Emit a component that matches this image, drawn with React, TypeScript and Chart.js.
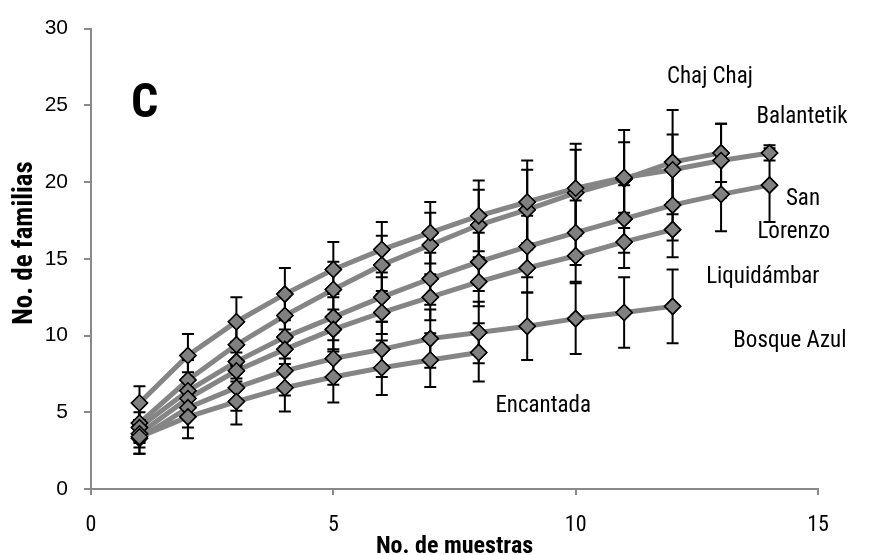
import React, { useEffect, useRef } from "react";
import { Chart, registerables } from "chart.js";

Chart.register(...registerables);

// ---- Data ----
const samples = [1, 2, 3, 4, 5, 6, 7, 8, 9, 10, 11, 12, 13, 14];

const seriesNames = ["Chaj Chaj", "Balantetik", "San Lorenzo", "Liquidámbar", "Bosque Azul", "Encantada"];

const chajChaj = [4.3, 7.1, 9.4, 11.3, 13.0, 14.6, 15.9, 17.2, 18.2, 19.3, 20.2, 21.3, 21.9];
const chajChajErr = [1.2, 1.3, 1.4, 1.6, 1.8, 1.9, 2.1, 2.3, 2.6, 2.8, 3.2, 3.4, 1.9];

const balantetik = [5.6, 8.7, 10.9, 12.7, 14.3, 15.6, 16.7, 17.8, 18.7, 19.6, 20.3, 20.8, 21.4, 21.9];
const balantetikErr = [1.1, 1.4, 1.6, 1.7, 1.8, 1.8, 2.0, 2.3, 2.7, 2.9, 2.3, 2.3, 2.4, 0.5];

const sanLorenzo = [4.0, 6.4, 8.3, 9.9, 11.2, 12.5, 13.7, 14.8, 15.8, 16.7, 17.6, 18.5, 19.2, 19.8];
const sanLorenzoErr = [1.0, 1.2, 1.3, 1.4, 1.5, 1.6, 1.7, 1.9, 2.0, 2.1, 2.2, 2.3, 2.4, 2.4];

const liquidambar = [3.6, 5.9, 7.7, 9.1, 10.4, 11.5, 12.5, 13.5, 14.4, 15.2, 16.1, 16.9];
const liquidambarErr = [0.9, 1.1, 1.2, 1.3, 1.3, 1.4, 1.5, 1.6, 1.6, 1.7, 1.7, 1.8];

const bosqueAzul = [3.3, 5.3, 6.6, 7.7, 8.5, 9.1, 9.8, 10.2, 10.6, 11.1, 11.5, 11.9];
const bosqueAzulErr = [1.0, 1.3, 1.5, 1.6, 1.7, 1.8, 1.9, 2.0, 2.2, 2.3, 2.3, 2.4];

const encantada = [3.4, 4.7, 5.7, 6.6, 7.3, 7.9, 8.4, 8.9];
const encantadaErr = [1.1, 1.4, 1.5, 1.55, 1.66, 1.77, 1.75, 1.9];

const seriesValues = [chajChaj, balantetik, sanLorenzo, liquidambar, bosqueAzul, encantada];
const seriesErrors = [chajChajErr, balantetikErr, sanLorenzoErr, liquidambarErr, bosqueAzulErr, encantadaErr];

// Axis ticks
const xTicks = [0, 5, 10, 15];
const yTicks = [0, 5, 10, 15, 20, 25, 30];

// Annotation text and its position in data units
const labelTexts = ["Chaj Chaj", "Balantetik", "San", "Lorenzo", "Liquidámbar", "Bosque Azul", "Encantada"];
const labelX = [12.77, 14.67, 14.69, 14.5, 13.86, 14.42, 9.33];
const labelY = [26.8, 24.2, 18.9, 16.7, 13.8, 9.6, 5.37];

const panelLetter = "C";
const xTitle = "No. de muestras";
const yTitle = "No. de familias";

const NARROW = "'Liberation Sans Narrow', 'Arial Narrow', 'Roboto Condensed', 'DejaVu Sans Condensed', sans-serif";
const SANS = "'Liberation Sans', Arial, sans-serif";

const errorBarPlugin = {
  id: "errorBars",
  afterDatasetsDraw(chart: any) {
    const ctx = chart.ctx;
    const xs = chart.scales.x;
    const ys = chart.scales.y;
    ctx.save();
    ctx.strokeStyle = "#000";
    ctx.lineWidth = 2;
    seriesValues.forEach((vals, i) => {
      const errs = seriesErrors[i];
      vals.forEach((v, j) => {
        const px = xs.getPixelForValue(samples[j]);
        const top = ys.getPixelForValue(v + errs[j]);
        const bot = ys.getPixelForValue(v - errs[j]);
        ctx.beginPath();
        ctx.moveTo(px, top);
        ctx.lineTo(px, bot);
        ctx.moveTo(px - 6, top);
        ctx.lineTo(px + 6, top);
        ctx.moveTo(px - 6, bot);
        ctx.lineTo(px + 6, bot);
        ctx.stroke();
      });
    });
    ctx.restore();
    // redraw markers on top of the error bars
    chart.data.datasets.forEach((_d: any, i: number) => {
      const meta = chart.getDatasetMeta(i);
      meta.data.forEach((pt: any) => pt.draw(ctx, chart.chartArea));
    });
  },
};

const textPlugin = {
  id: "texts",
  afterDraw(chart: any) {
    const ctx = chart.ctx;
    const xs = chart.scales.x;
    const ys = chart.scales.y;
    ctx.save();
    ctx.fillStyle = "#000";
    ctx.textAlign = "center";
    ctx.textBaseline = "middle";
    ctx.font = `23px ${NARROW}`;
    labelTexts.forEach((t, i) => {
      ctx.fillText(t, xs.getPixelForValue(labelX[i]), ys.getPixelForValue(labelY[i]));
    });
    // panel letter
    ctx.font = `bold 48px ${NARROW}`;
    ctx.textBaseline = "alphabetic";
    ctx.fillText(panelLetter, xs.getPixelForValue(1.11), ys.getPixelForValue(24.25));
    // x title
    ctx.font = `bold 24px ${NARROW}`;
    ctx.fillText(xTitle, (chart.chartArea.left + chart.chartArea.right) / 2, 553);
    // y title
    ctx.translate(32, 243);
    ctx.rotate(-Math.PI / 2);
    ctx.font = `bold 27px ${NARROW}`;
    ctx.fillText(yTitle, 0, 0);
    ctx.restore();
  },
};

export default function App() {
  const ref = useRef<HTMLCanvasElement | null>(null);
  useEffect(() => {
    document.body.style.margin = "0";
    const datasets = seriesValues.map((vals, i) => ({
      label: seriesNames[i],
      data: vals.map((v, j) => ({ x: samples[j], y: v })),
      borderColor: "#858585",
      borderWidth: 5,
      backgroundColor: "#808080",
      pointStyle: "rectRot",
      pointRadius: 8,
      pointBorderColor: "#000",
      pointBorderWidth: 1.5,
      pointBackgroundColor: "#808080",
      tension: 0,
      showLine: true,
      clip: false,
    }));
    const chart = new Chart(ref.current!, {
      type: "scatter",
      data: { datasets },
      options: {
        responsive: false,
        animation: false,
        layout: { padding: { left: 0, top: 20, right: 60, bottom: 0 } },
        plugins: { legend: { display: false }, tooltip: { enabled: false } },
        scales: {
          x: {
            type: "linear",
            min: 0,
            max: 15,
            afterBuildTicks: (s: any) => { s.ticks = xTicks.map((v) => ({ value: v })); },
            afterFit: (s: any) => { s.height = 66; },
            grid: { drawOnChartArea: false, drawTicks: true, tickLength: 6, color: "#898989", lineWidth: 2 },
            border: { color: "#898989", width: 2 },
            ticks: { color: "#000", font: { family: NARROW, size: 22 }, padding: 17 },
          },
          y: {
            type: "linear",
            min: 0,
            max: 30,
            afterBuildTicks: (s: any) => { s.ticks = yTicks.map((v) => ({ value: v })); },
            afterFit: (s: any) => { s.width = 91; },
            grid: { drawOnChartArea: false, drawTicks: true, tickLength: 7, color: "#898989", lineWidth: 2 },
            border: { color: "#898989", width: 2 },
            ticks: { color: "#000", font: { family: SANS, size: 21 }, padding: 16 },
          },
        },
      },
      plugins: [errorBarPlugin, textPlugin],
    } as any);
    return () => chart.destroy();
  }, []);
  return (
    <div style={{ width: 878, height: 555, background: "#fff" }}>
      <canvas ref={ref} width={878} height={555} />
    </div>
  );
}
